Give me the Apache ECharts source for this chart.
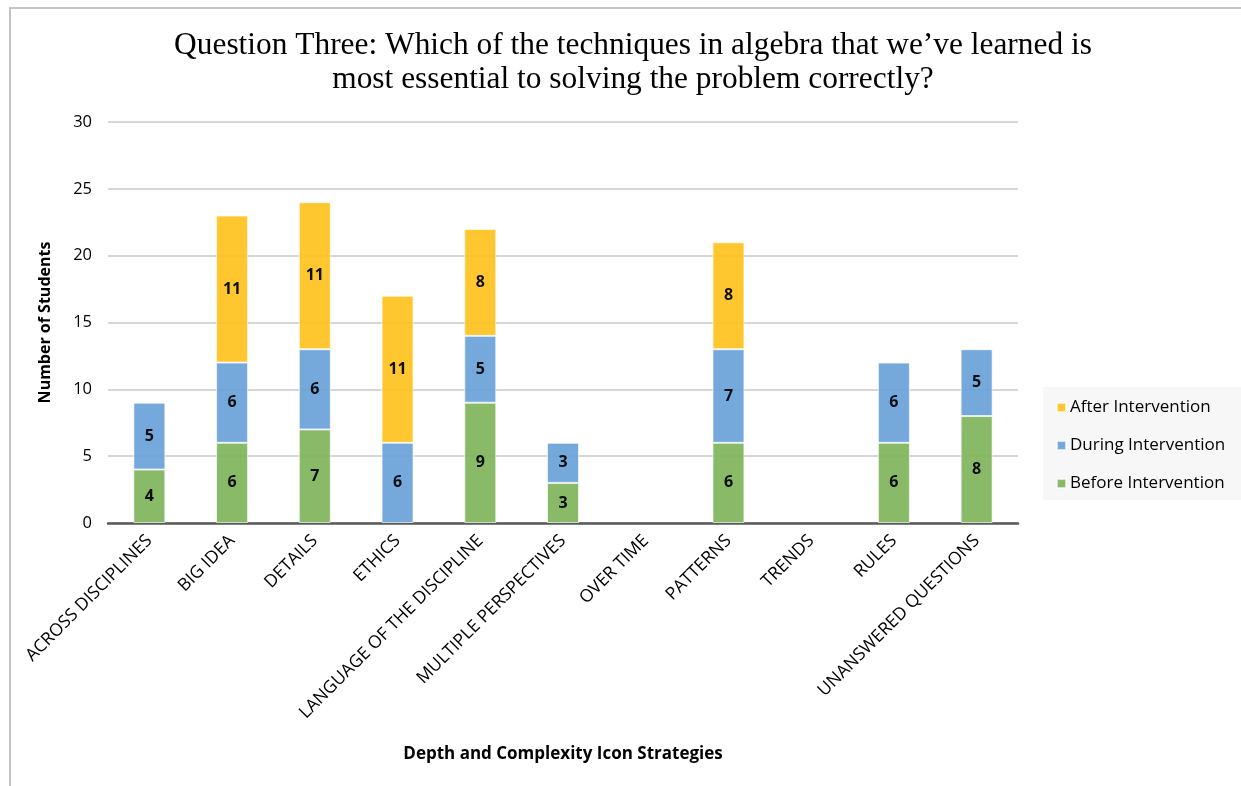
<!DOCTYPE html>
<html>
<head>
<meta charset="utf-8">
<script src="https://cdn.jsdelivr.net/npm/echarts@6/dist/echarts.min.js"></script>
<style>html,body{margin:0;padding:0;background:#fff}#c{width:1241px;height:786px}</style>
</head>
<body>
<div id="c"></div>
<script>
const categories = ['ACROSS DISCIPLINES','BIG IDEA','DETAILS','ETHICS','LANGUAGE OF THE DISCIPLINE','MULTIPLE PERSPECTIVES','OVER TIME','PATTERNS','TRENDS','RULES','UNANSWERED QUESTIONS'];
const beforeIntervention = [4, 6, 7, 0, 9, 3, 0, 6, 0, 6, 8];
const duringIntervention = [5, 6, 6, 6, 5, 3, 0, 7, 0, 6, 5];
const afterIntervention  = [0, 11, 11, 11, 8, 0, 0, 8, 0, 0, 0];
const yTicks = [0, 5, 10, 15, 20, 25, 30];

const sans = '"Open Sans", Lato, sans-serif';
const chart = echarts.init(document.getElementById('c'), null, {renderer: 'canvas'});
const labelCfg = {
  show: true, position: 'inside', color: '#000', fontWeight: 'bold', fontSize: 16, fontFamily: sans,
  formatter: p => (p.value ? String(p.value) : '')
};
function mk(name, data, color) {
  return {
    name, type: 'bar', stack: 'total', data: data.map(v => (v === 0 ? '-' : v)), barWidth: 32,
    itemStyle: {color, opacity: 0.93, borderColor: 'rgba(255,255,255,0.7)', borderWidth: 1},
    label: labelCfg, emphasis: {disabled: true}
  };
}
chart.setOption({
  animation: false,
  backgroundColor: '#fff',
  title: {
    text: 'Question Three: Which of the techniques in algebra that we’ve learned is\nmost essential to solving the problem correctly?',
    left: 628, top: 24, textAlign: 'center',
    textStyle: {fontFamily: '"Liberation Serif", "Times New Roman", serif', fontSize: 31.4, fontWeight: 'normal', color: '#000', lineHeight: 34}
  },
  graphic: [
    {type: 'rect', z: -10, shape: {x: 10, y: 8, width: 1300, height: 900}, style: {fill: 'none', stroke: '#c4c4c4', lineWidth: 2}},
    {type: 'rect', z: -5, shape: {x: 1043, y: 387, width: 198, height: 113}, style: {fill: '#f7f7f7'}}
  ],
  legend: {
    left: 1051, top: 394, orient: 'vertical', itemGap: 21, itemWidth: 9, itemHeight: 9,
    icon: 'rect',
    data: ['After Intervention', 'During Intervention', 'Before Intervention'],
    textStyle: {fontFamily: sans, fontSize: 17, color: '#000', padding: [0,0,0,-1]}
  },
  grid: {left: 108, right: 223, top: 122, bottom: 263, containLabel: false},
  xAxis: {
    type: 'category', data: categories,
    name: 'Depth and Complexity Icon Strategies', nameLocation: 'middle', nameGap: 223,
    nameTextStyle: {fontFamily: sans, fontSize: 17, fontWeight: 'bold', color: '#000', verticalAlign: 'top'},
    axisLine: {lineStyle: {color: '#595959', width: 2.5}},
    axisTick: {show: false},
    axisLabel: {rotate: 45, interval: 0, margin: 15, fontFamily: sans, fontSize: 17.5, color: '#000'}
  },
  yAxis: {
    type: 'value', min: 0, max: 30, interval: 5,
    name: 'Number of Students', nameLocation: 'middle', nameGap: 55,
    nameTextStyle: {fontFamily: sans, fontSize: 16, fontWeight: 'bold', color: '#000'},
    axisLine: {show: false}, axisTick: {show: false},
    axisLabel: {margin: 16, fontFamily: sans, fontSize: 16.5, color: '#000', formatter: v => (yTicks.includes(v) ? String(v) : '')},
    splitLine: {lineStyle: {color: '#c8c8c8', width: 1.5}}
  },
  series: [
    mk('Before Intervention', beforeIntervention, '#7fb55c'),
    mk('During Intervention', duringIntervention, '#6aa3d9'),
    mk('After Intervention', afterIntervention, '#ffc31f')
  ]
});
</script>
</body>
</html>
